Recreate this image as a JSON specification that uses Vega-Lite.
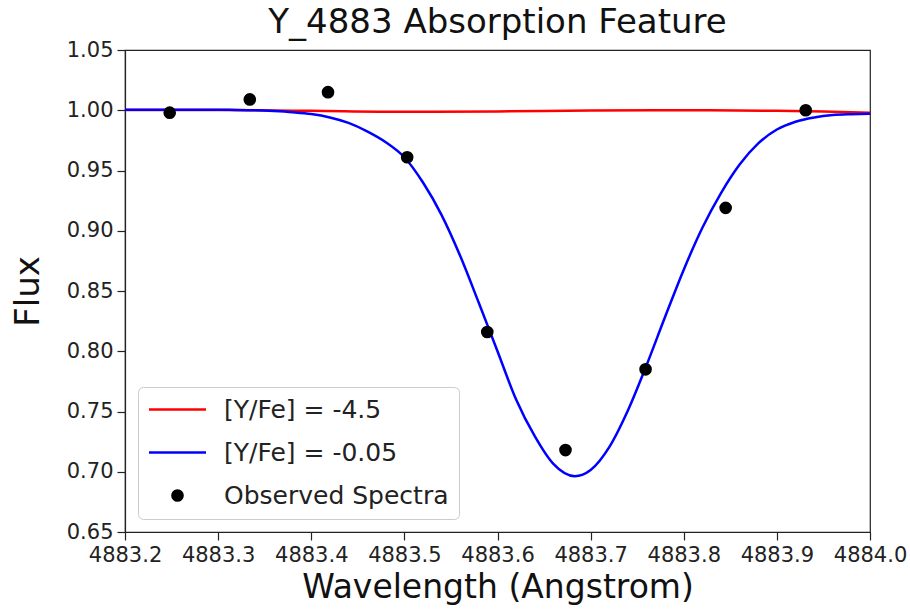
{
  "$schema": "https://vega.github.io/schema/vega-lite/v6.json",
  "autosize": {"type": "none"},
  "padding": {"left": 125, "top": 50, "right": 40, "bottom": 83},
  "width": 745,
  "height": 482,
  "background": "white",
  "title": {
    "text": "Y_4883 Absorption Feature",
    "font": "DejaVu Sans",
    "fontSize": 34,
    "fontWeight": "normal",
    "color": "#111111",
    "anchor": "middle",
    "baseline": "bottom",
    "offset": 6,
    "dy": 41
  },
  "config": {
    "view": {"stroke": "#222222", "strokeWidth": 1.2},
    "axis": {
      "grid": false,
      "domainColor": "#222222",
      "domainWidth": 1.2,
      "tickColor": "#222222",
      "tickWidth": 1.2,
      "tickSize": 8,
      "labelFont": "DejaVu Sans",
      "labelFontSize": 21,
      "labelColor": "#222222",
      "titleFont": "DejaVu Sans",
      "titleFontSize": 33,
      "titleFontWeight": "normal",
      "titleColor": "#111111"
    }
  },
  "datasets": {
    "curves": [
      {"wl": 4883.20, "flux": 1.0003, "series": "[Y/Fe] = -4.5"},
      {"wl": 4883.30, "flux": 1.0002, "series": "[Y/Fe] = -4.5"},
      {"wl": 4883.40, "flux": 0.9995, "series": "[Y/Fe] = -4.5"},
      {"wl": 4883.50, "flux": 0.9987, "series": "[Y/Fe] = -4.5"},
      {"wl": 4883.60, "flux": 0.9990, "series": "[Y/Fe] = -4.5"},
      {"wl": 4883.70, "flux": 0.9997, "series": "[Y/Fe] = -4.5"},
      {"wl": 4883.80, "flux": 1.0000, "series": "[Y/Fe] = -4.5"},
      {"wl": 4883.90, "flux": 0.9996, "series": "[Y/Fe] = -4.5"},
      {"wl": 4883.95, "flux": 0.9990, "series": "[Y/Fe] = -4.5"},
      {"wl": 4884.00, "flux": 0.9980, "series": "[Y/Fe] = -4.5"},
      {"wl": 4883.200, "flux": 1.0005, "series": "[Y/Fe] = -0.05"},
      {"wl": 4883.240, "flux": 1.0005, "series": "[Y/Fe] = -0.05"},
      {"wl": 4883.280, "flux": 1.0005, "series": "[Y/Fe] = -0.05"},
      {"wl": 4883.300, "flux": 1.0004, "series": "[Y/Fe] = -0.05"},
      {"wl": 4883.320, "flux": 1.0003, "series": "[Y/Fe] = -0.05"},
      {"wl": 4883.340, "flux": 1.0000, "series": "[Y/Fe] = -0.05"},
      {"wl": 4883.360, "flux": 0.9993, "series": "[Y/Fe] = -0.05"},
      {"wl": 4883.380, "flux": 0.9983, "series": "[Y/Fe] = -0.05"},
      {"wl": 4883.400, "flux": 0.9968, "series": "[Y/Fe] = -0.05"},
      {"wl": 4883.420, "flux": 0.9940, "series": "[Y/Fe] = -0.05"},
      {"wl": 4883.440, "flux": 0.9895, "series": "[Y/Fe] = -0.05"},
      {"wl": 4883.460, "flux": 0.9825, "series": "[Y/Fe] = -0.05"},
      {"wl": 4883.480, "flux": 0.9735, "series": "[Y/Fe] = -0.05"},
      {"wl": 4883.500, "flux": 0.9610, "series": "[Y/Fe] = -0.05"},
      {"wl": 4883.520, "flux": 0.9400, "series": "[Y/Fe] = -0.05"},
      {"wl": 4883.540, "flux": 0.9130, "series": "[Y/Fe] = -0.05"},
      {"wl": 4883.560, "flux": 0.8790, "series": "[Y/Fe] = -0.05"},
      {"wl": 4883.580, "flux": 0.8400, "series": "[Y/Fe] = -0.05"},
      {"wl": 4883.600, "flux": 0.8000, "series": "[Y/Fe] = -0.05"},
      {"wl": 4883.620, "flux": 0.7600, "series": "[Y/Fe] = -0.05"},
      {"wl": 4883.640, "flux": 0.7295, "series": "[Y/Fe] = -0.05"},
      {"wl": 4883.660, "flux": 0.7065, "series": "[Y/Fe] = -0.05"},
      {"wl": 4883.683, "flux": 0.6963, "series": "[Y/Fe] = -0.05"},
      {"wl": 4883.700, "flux": 0.7014, "series": "[Y/Fe] = -0.05"},
      {"wl": 4883.720, "flux": 0.7204, "series": "[Y/Fe] = -0.05"},
      {"wl": 4883.740, "flux": 0.7508, "series": "[Y/Fe] = -0.05"},
      {"wl": 4883.760, "flux": 0.7883, "series": "[Y/Fe] = -0.05"},
      {"wl": 4883.780, "flux": 0.8286, "series": "[Y/Fe] = -0.05"},
      {"wl": 4883.800, "flux": 0.8677, "series": "[Y/Fe] = -0.05"},
      {"wl": 4883.820, "flux": 0.9025, "series": "[Y/Fe] = -0.05"},
      {"wl": 4883.840, "flux": 0.9313, "series": "[Y/Fe] = -0.05"},
      {"wl": 4883.860, "flux": 0.9550, "series": "[Y/Fe] = -0.05"},
      {"wl": 4883.880, "flux": 0.9725, "series": "[Y/Fe] = -0.05"},
      {"wl": 4883.900, "flux": 0.9840, "series": "[Y/Fe] = -0.05"},
      {"wl": 4883.920, "flux": 0.9905, "series": "[Y/Fe] = -0.05"},
      {"wl": 4883.940, "flux": 0.9940, "series": "[Y/Fe] = -0.05"},
      {"wl": 4883.960, "flux": 0.9960, "series": "[Y/Fe] = -0.05"},
      {"wl": 4883.980, "flux": 0.9967, "series": "[Y/Fe] = -0.05"},
      {"wl": 4884.000, "flux": 0.9970, "series": "[Y/Fe] = -0.05"}
    ],
    "obs": [
      {"wl": 4883.248, "flux": 0.998, "series": "Observed Spectra"},
      {"wl": 4883.334, "flux": 1.009, "series": "Observed Spectra"},
      {"wl": 4883.418, "flux": 1.015, "series": "Observed Spectra"},
      {"wl": 4883.503, "flux": 0.961, "series": "Observed Spectra"},
      {"wl": 4883.589, "flux": 0.816, "series": "Observed Spectra"},
      {"wl": 4883.673, "flux": 0.718, "series": "Observed Spectra"},
      {"wl": 4883.759, "flux": 0.785, "series": "Observed Spectra"},
      {"wl": 4883.845, "flux": 0.919, "series": "Observed Spectra"},
      {"wl": 4883.931, "flux": 1.000, "series": "Observed Spectra"}
    ]
  },
  "encoding": {
    "x": {
      "field": "wl", "type": "quantitative",
      "scale": {"domain": [4883.2, 4884.0], "nice": false, "zero": false},
      "axis": {
        "title": "Wavelength (Angstrom)",
        "values": [4883.2, 4883.3, 4883.4, 4883.5, 4883.6, 4883.7, 4883.8, 4883.9, 4884.0],
        "format": ".1f",
        "labelPadding": 4,
        "titlePadding": 6,
        "labelFlush": false,
        "labelOverlap": false
      }
    },
    "y": {
      "field": "flux", "type": "quantitative",
      "scale": {"domain": [0.65, 1.05], "nice": false, "zero": false},
      "axis": {
        "title": "Flux",
        "values": [0.65, 0.70, 0.75, 0.80, 0.85, 0.90, 0.95, 1.00, 1.05],
        "format": ".2f",
        "labelPadding": 4,
        "titlePadding": 21,
        "titleFontSize": 34,
        "labelFlush": false,
        "labelOverlap": false
      }
    },
    "color": {
      "field": "series", "type": "nominal",
      "scale": {
        "domain": ["[Y/Fe] = -4.5", "[Y/Fe] = -0.05", "Observed Spectra"],
        "range": ["#ff0000", "#0000ff", "#000000"]
      },
      "legend": {
        "title": null,
        "orient": "bottom-left",
        "offset": 13,
        "padding": 10,
        "labelFont": "DejaVu Sans",
        "labelFontSize": 25,
        "labelColor": "#222222",
        "labelLimit": 0,
        "symbolOffset": 17,
        "labelOffset": 34,
        "rowPadding": 17,
        "symbolType": "stroke",
        "symbolSize": 3249,
        "symbolStrokeWidth": 2.5,
        "strokeColor": "#cccccc",
        "cornerRadius": 5,
        "fillColor": "rgba(255,255,255,0.85)",
        "encode": {
          "symbols": {
            "update": {
              "shape": {"signal": "datum.value === 'Observed Spectra' ? 'circle' : 'stroke'"},
              "size": {"signal": "datum.value === 'Observed Spectra' ? 160 : 3249"},
              "fill": {"signal": "datum.value === 'Observed Spectra' ? '#000000' : 'transparent'"},
              "stroke": {"signal": "datum.value === 'Observed Spectra' ? '#000000' : (datum.value === '[Y/Fe] = -4.5' ? '#ff0000' : '#0000ff')"},
              "strokeWidth": {"signal": "datum.value === 'Observed Spectra' ? 0 : 2.5"},
              "opacity": {"value": 1}
            }
          }
        }
      }
    }
  },
  "layer": [
    {
      "data": {"name": "curves"},
      "mark": {"type": "line", "strokeWidth": 2.5, "interpolate": "monotone"}
    },
    {
      "data": {"name": "obs"},
      "mark": {"type": "point", "filled": true, "size": 160, "opacity": 1, "shape": "circle"}
    }
  ]
}
